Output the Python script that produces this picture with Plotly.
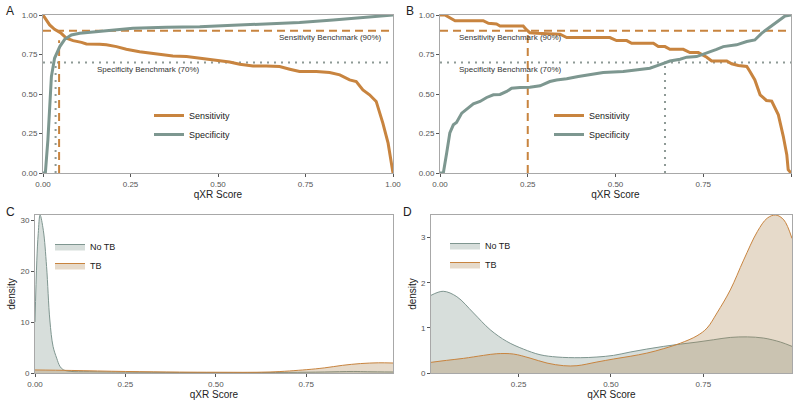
import plotly.graph_objects as go

# -------------------------------------------------
# DATA
# -------------------------------------------------

ORANGE = "#C8843F"
GREEN = "#7D9790"

# Panel A: sensitivity / specificity vs threshold
a_sens_x = [0, 0.0095, 0.019, 0.033, 0.052, 0.067, 0.086, 0.11, 0.124, 0.162, 0.181, 0.21,
            0.238, 0.276, 0.324, 0.371, 0.41, 0.448, 0.486, 0.533, 0.562, 0.6, 0.638, 0.676,
            0.705, 0.733, 0.781, 0.819, 0.848, 0.876, 0.895, 0.914, 0.933, 0.952, 0.971,
            0.986, 1.0]
a_sens_y = [1.0, 0.968, 0.937, 0.909, 0.884, 0.853, 0.838, 0.827, 0.817, 0.815, 0.811, 0.8,
            0.783, 0.768, 0.752, 0.741, 0.737, 0.726, 0.712, 0.703, 0.688, 0.678, 0.678, 0.674,
            0.657, 0.642, 0.642, 0.636, 0.621, 0.589, 0.579, 0.526, 0.495, 0.453, 0.316,
            0.189, 0.0]
a_spec_x = [0, 0.0067, 0.014, 0.024, 0.033, 0.048, 0.062, 0.081, 0.105, 0.133, 0.162, 0.21,
            0.257, 0.352, 0.448, 0.543, 0.638, 0.733, 0.829, 0.924, 1.0]
a_spec_y = [0, 0, 0.21, 0.61, 0.726, 0.8, 0.846, 0.874, 0.884, 0.89, 0.899, 0.909,
            0.916, 0.922, 0.926, 0.935, 0.943, 0.952, 0.968, 0.985, 1.0]
a_sens_cut, a_sens_cut_y = 0.046, 0.84
a_spec_cut, a_spec_cut_y = 0.036, 0.70

# Panel B
b_sens_x = [0, 0.014, 0.043, 0.123, 0.138, 0.161, 0.171, 0.237, 0.247, 0.256, 0.275, 0.342,
            0.361, 0.484, 0.503, 0.532, 0.546, 0.608, 0.622, 0.641, 0.655, 0.693, 0.712,
            0.736, 0.76, 0.774, 0.817, 0.831, 0.85, 0.874, 0.883, 0.897, 0.912, 0.93, 0.945,
            0.964, 0.978, 0.988, 0.992, 1.0]
b_sens_y = [1.0, 1.0, 0.964, 0.964, 0.947, 0.943, 0.93, 0.93, 0.905, 0.888, 0.884, 0.878,
            0.857, 0.857, 0.838, 0.838, 0.821, 0.821, 0.8, 0.8, 0.783, 0.783, 0.762,
            0.762, 0.733, 0.709, 0.709, 0.691, 0.68, 0.674, 0.642, 0.589, 0.495, 0.459, 0.455,
            0.368, 0.232, 0.116, 0.021, 0.0]
b_spec_x = [0, 0.0095, 0.019, 0.028, 0.038, 0.047, 0.062, 0.076, 0.085, 0.095, 0.114, 0.133,
            0.152, 0.171, 0.19, 0.204, 0.228, 0.256, 0.285, 0.313, 0.332, 0.361, 0.394, 0.427,
            0.465, 0.522, 0.57, 0.598, 0.627, 0.655, 0.684, 0.703, 0.731, 0.76, 0.788, 0.807,
            0.845, 0.874, 0.897, 0.916, 0.931, 0.95, 0.969, 0.983, 1.0]
b_spec_y = [0, 0, 0.126, 0.253, 0.305, 0.32, 0.379, 0.404, 0.415, 0.438, 0.453, 0.478,
            0.495, 0.497, 0.516, 0.537, 0.541, 0.543, 0.552, 0.579, 0.589, 0.596, 0.611, 0.621,
            0.636, 0.642, 0.655, 0.663, 0.686, 0.709, 0.72, 0.733, 0.737, 0.758, 0.783, 0.8,
            0.811, 0.832, 0.842, 0.884, 0.909, 0.937, 0.968, 0.994, 1.0]
b_sens_cut, b_sens_cut_y = 0.25, 0.90
b_spec_cut, b_spec_cut_y = 0.641, 0.70

sens_benchmark = 0.9
spec_benchmark = 0.7

# Panel C: densities (narrow bandwidth)
c_notb_x = [0, 0.005, 0.009, 0.014, 0.023, 0.032, 0.041, 0.05, 0.06, 0.069, 0.078, 0.097,
            0.15, 0.25, 0.4, 0.55, 0.7, 0.8, 0.88, 0.92, 0.99]
c_notb_y = [10, 22, 27.4, 31, 28, 20.9, 10.4, 5.2, 2.9, 1.3, 0.65, 0.33,
            0.25, 0.18, 0.1, 0.08, 0.12, 0.2, 0.3, 0.25, 0.2]
c_tb_x = [0, 0.1, 0.25, 0.4, 0.5, 0.65, 0.75, 0.8, 0.85, 0.9, 0.95, 0.99]
c_tb_y = [0.6, 0.5, 0.3, 0.18, 0.15, 0.2, 0.65, 1.0, 1.5, 1.85, 2.0, 1.96]

# Panel D: densities (wide bandwidth)
d_notb_x = [0.013, 0.046, 0.083, 0.128, 0.173, 0.218, 0.263, 0.308, 0.354, 0.417, 0.462,
            0.507, 0.552, 0.597, 0.643, 0.688, 0.733, 0.778, 0.823, 0.869, 0.913, 0.959, 0.99]
d_notb_y = [1.72, 1.81, 1.69, 1.33, 0.96, 0.7, 0.53, 0.405, 0.354, 0.339, 0.354,
            0.39, 0.464, 0.53, 0.59, 0.64, 0.685, 0.737, 0.788, 0.8, 0.774, 0.685, 0.59]
d_tb_x = [0.013, 0.055, 0.101, 0.155, 0.191, 0.236, 0.281, 0.327, 0.372, 0.408, 0.462,
          0.507, 0.552, 0.597, 0.643, 0.688, 0.733, 0.76, 0.787, 0.823, 0.859, 0.896,
          0.923, 0.946, 0.968, 0.99]
d_tb_y = [0.236, 0.28, 0.324, 0.39, 0.427, 0.42, 0.33, 0.22, 0.162, 0.162, 0.243,
          0.31, 0.37, 0.44, 0.54, 0.66, 0.825, 0.995, 1.33, 1.84, 2.5, 3.13,
          3.43, 3.5, 3.39, 2.98]

# -------------------------------------------------
# FIGURE
# -------------------------------------------------

W, H = 797, 401


def px_x(p):
    return p / W


def px_y(p):
    return 1 - p / H


fig = go.Figure()

line_panels = [
    ("x", "y", a_sens_x, a_sens_y, a_spec_x, a_spec_y,
     a_sens_cut, a_sens_cut_y, a_spec_cut, a_spec_cut_y, "legend"),
    ("x2", "y2", b_sens_x, b_sens_y, b_spec_x, b_spec_y,
     b_sens_cut, b_sens_cut_y, b_spec_cut, b_spec_cut_y, "legend2"),
]

for xa, ya, sx, sy, px_, py_, sc, scy, pc, pcy, lg in line_panels:
    # benchmark lines
    fig.add_trace(go.Scatter(x=[0, 1], y=[sens_benchmark, sens_benchmark], xaxis=xa, yaxis=ya,
                             mode="lines", line=dict(color=ORANGE, width=2, dash="8px,5px"),
                             showlegend=False, hoverinfo="skip"))
    fig.add_trace(go.Scatter(x=[0, 1], y=[spec_benchmark, spec_benchmark], xaxis=xa, yaxis=ya,
                             mode="lines", line=dict(color="#8E9A96", width=2, dash="2px,5px"),
                             showlegend=False, hoverinfo="skip"))
    fig.add_trace(go.Scatter(x=[sc, sc], y=[0, scy], xaxis=xa, yaxis=ya,
                             mode="lines", line=dict(color=ORANGE, width=2, dash="8px,5px"),
                             showlegend=False, hoverinfo="skip"))
    fig.add_trace(go.Scatter(x=[pc, pc], y=[0, pcy], xaxis=xa, yaxis=ya,
                             mode="lines", line=dict(color="#8E9A96", width=2, dash="2px,5px"),
                             showlegend=False, hoverinfo="skip"))
    # curves
    fig.add_trace(go.Scatter(x=sx, y=sy, xaxis=xa, yaxis=ya, mode="lines", name="Sensitivity",
                             line=dict(color=ORANGE, width=3), legend=lg))
    fig.add_trace(go.Scatter(x=px_, y=py_, xaxis=xa, yaxis=ya, mode="lines", name="Specificity",
                             line=dict(color=GREEN, width=3), legend=lg))

dens_panels = [
    ("x3", "y3", c_notb_x, c_notb_y, c_tb_x, c_tb_y, "legend3"),
    ("x4", "y4", d_notb_x, d_notb_y, d_tb_x, d_tb_y, "legend4"),
]

for xa, ya, nx, ny, tx, ty, lg in dens_panels:
    fig.add_trace(go.Scatter(x=nx, y=ny, xaxis=xa, yaxis=ya, mode="lines", name="No TB",
                             line=dict(color="#7F9690", width=1, shape="spline"), fill="tozeroy",
                             fillcolor="rgba(122,145,135,0.30)", legend=lg))
    fig.add_trace(go.Scatter(x=tx, y=ty, xaxis=xa, yaxis=ya, mode="lines", name="TB",
                             line=dict(color=ORANGE, width=1, shape="spline"), fill="tozeroy",
                             fillcolor="rgba(172,132,78,0.30)", legend=lg))

axis_common = dict(
    showgrid=False, zeroline=False, showline=True, mirror=True, automargin=False,
    linecolor="#A8A8A8", linewidth=1, ticks="outside", ticklen=3,
    tickcolor="#555555", tickfont=dict(size=8, color="#555555"),
)

title_font = dict(size=10, color="#222222")
ticks01 = [0, 0.25, 0.5, 0.75, 1]
labels01 = ["0.00", "0.25", "0.50", "0.75", "1.00"]

fig.update_layout(
    width=W, height=H,
    margin=dict(l=0, r=0, t=0, b=0),
    paper_bgcolor="white", plot_bgcolor="white",
    font=dict(family="Liberation Sans, Arial, sans-serif", color="#222222"),
    xaxis=dict(domain=[px_x(43), px_x(393)], range=[0, 1], anchor="y",
               tickvals=ticks01, ticktext=labels01,
               title=dict(text="qXR Score", font=title_font, standoff=2), **axis_common),
    yaxis=dict(domain=[px_y(173), px_y(15)], range=[0, 1], anchor="x",
               tickvals=ticks01, ticktext=labels01, **axis_common),
    xaxis2=dict(domain=[px_x(440), px_x(791)], range=[0, 1], anchor="y2",
                tickvals=ticks01, ticktext=labels01,
                title=dict(text="qXR Score", font=title_font, standoff=2), **axis_common),
    yaxis2=dict(domain=[px_y(173), px_y(15)], range=[0, 1], anchor="x2",
                tickvals=ticks01, ticktext=labels01, **axis_common),
    xaxis3=dict(domain=[px_x(35), px_x(393)], range=[0, 0.99], anchor="y3",
                tickvals=[0, 0.25, 0.5, 0.75], ticktext=["0.00", "0.25", "0.50", "0.75"],
                title=dict(text="qXR Score", font=title_font, standoff=2), **axis_common),
    yaxis3=dict(domain=[px_y(373), px_y(215)], range=[0, 31], anchor="x3",
                tickvals=[0, 10, 20, 30],
                title=dict(text="density", font=title_font, standoff=2), **axis_common),
    xaxis4=dict(domain=[px_x(431), px_x(792)], range=[0.013, 0.99], anchor="y4",
                tickvals=[0.25, 0.5, 0.75], ticktext=["0.25", "0.50", "0.75"],
                title=dict(text="qXR Score", font=title_font, standoff=2), **axis_common),
    yaxis4=dict(domain=[px_y(373), px_y(215)], range=[0, 3.5], anchor="x4",
                tickvals=[0, 1, 2, 3],
                title=dict(text="density", font=title_font, standoff=2), **axis_common),
)

legend_common = dict(bgcolor="rgba(0,0,0,0)", font=dict(size=9, color="#222222"),
                     xanchor="left", yanchor="top", itemwidth=30, tracegroupgap=0)

fig.update_layout(
    legend=dict(x=px_x(149), y=px_y(101), **legend_common),
    legend2=dict(x=px_x(549), y=px_y(101), **legend_common),
    legend3=dict(x=px_x(50), y=px_y(232), **legend_common),
    legend4=dict(x=px_x(445), y=px_y(231), **legend_common),
)

ann_font = dict(size=8, color="#333333")
fig.add_annotation(x=0.82, y=0.857, xref="x", yref="y", text="Sensitivity Benchmark (90%)",
                   showarrow=False, font=ann_font)
fig.add_annotation(x=0.30, y=0.653, xref="x", yref="y", text="Specificity Benchmark (70%)",
                   showarrow=False, font=ann_font)
fig.add_annotation(x=0.20, y=0.857, xref="x2", yref="y2", text="Sensitivity Benchmark (90%)",
                   showarrow=False, font=ann_font)
fig.add_annotation(x=0.20, y=0.653, xref="x2", yref="y2", text="Specificity Benchmark (70%)",
                   showarrow=False, font=ann_font)

# panel letters
for label, lx, ly in [("A", 4, 2), ("B", 404, 2), ("C", 4, 203), ("D", 401, 203)]:
    fig.add_annotation(x=px_x(lx), y=px_y(ly), xref="paper", yref="paper", text=label,
                       showarrow=False, xanchor="left", yanchor="top",
                       font=dict(size=12, color="#222222"))

# drop the default page margin so the figure sits at the window's corner
fig.write_html("out.html", config={"displayModeBar": False},
               post_script="document.body.style.margin='0px';")
